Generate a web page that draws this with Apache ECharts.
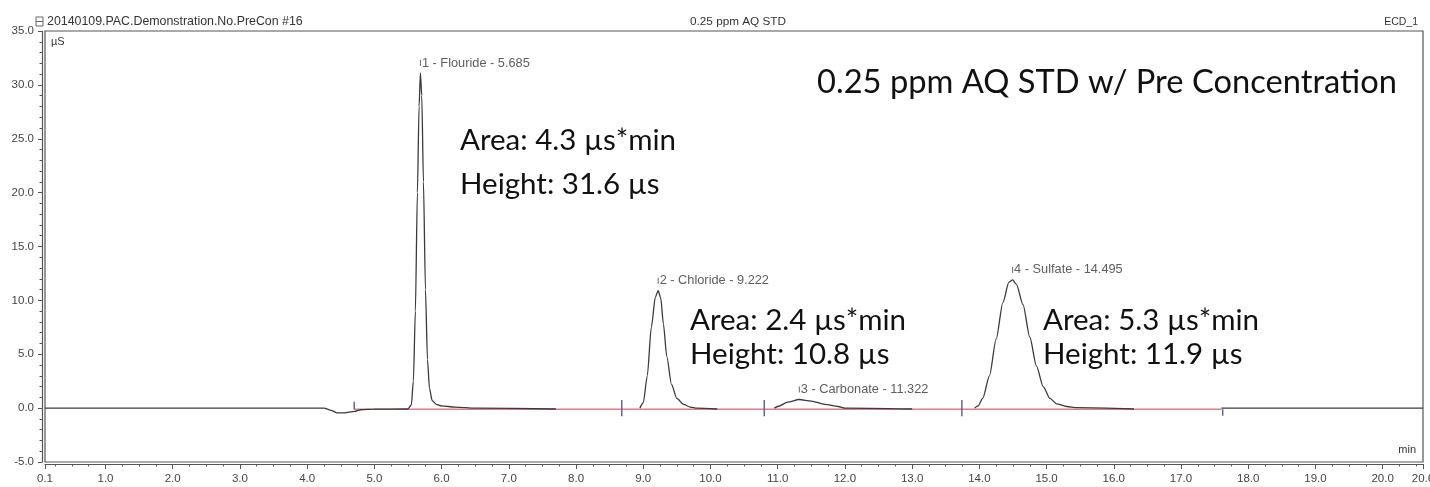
<!DOCTYPE html>
<html><head><meta charset="utf-8">
<script src="https://cdn.jsdelivr.net/npm/echarts@6/dist/echarts.min.js"></script>
<style>html,body{margin:0;padding:0;background:#fff}#c{width:1430px;height:487px}</style>
</head><body><div id="c"></div>
<script>
// ---- data ----
const traceTime = [0.1, 4.25, 4.35, 4.45, 4.55, 4.65, 4.7, 4.8, 5.0, 5.5, 5.55, 5.58, 5.61, 5.64, 5.665, 5.685, 5.705, 5.73, 5.76, 5.79, 5.82, 5.86, 5.92, 6.0, 6.2, 6.5, 7.7, 7.71,
  8.95, 9.0, 9.06, 9.12, 9.18, 9.222, 9.26, 9.3, 9.35, 9.42, 9.5, 9.6, 9.7, 9.8, 10.1, 10.11,
  10.95, 11.0, 11.15, 11.32, 11.5, 11.7, 11.9, 12.0, 13.0, 13.01,
  13.93, 13.98, 14.05, 14.15, 14.25, 14.35, 14.44, 14.495, 14.55, 14.65, 14.75, 14.85, 14.95, 15.05, 15.15, 15.3, 15.45, 16.3, 16.31,
  17.6, 20.6];
const traceValue = [0, 0, -0.2, -0.45, -0.45, -0.35, -0.3, -0.15, -0.1, -0.08, 0.3, 2.5, 9, 20, 28, 31.1, 29, 21, 11, 4.5, 1.8, 0.7, 0.35, 0.2, 0.1, 0.0, -0.08, null,
  0.0, 0.5, 3, 7.5, 10.3, 10.9, 10.2, 7.8, 4.8, 2.2, 0.9, 0.35, 0.1, 0.0, -0.08, null,
  0.0, 0.15, 0.55, 0.8, 0.65, 0.35, 0.15, 0.0, -0.08, null,
  0.0, 0.2, 0.9, 3.0, 6.4, 9.8, 11.7, 11.9, 11.5, 9.6, 6.6, 3.9, 2.0, 0.9, 0.4, 0.15, 0.05, -0.08, null,
  0, 0];
const baselineTime = [4.7, 17.6];
const baselineValue = [-0.1, -0.1];
const markerTime = [4.70, 8.68, 10.80, 13.74, 17.62];
const markerLow = [-0.1, -0.75, -0.75, -0.75, -0.7];
const markerHigh = [0.6, 0.75, 0.75, 0.75, -0.1];
const peakNum = [1, 2, 3, 4];
const peakName = ['Flouride', 'Chloride', 'Carbonate', 'Sulfate'];
const peakTime = [5.685, 9.222, 11.322, 14.495];
const peakHeight = [31.1, 10.9, 0.8, 11.9];
const annotArea = ['4.3', '2.4', '5.3'];
const annotHeight = ['31.6', '10.8', '11.9'];
const xTickLabels = [0.1, 1, 2, 3, 4, 5, 6, 7, 8, 9, 10, 11, 12, 13, 14, 15, 16, 17, 18, 19, 20, 20.6];
const yTicks = {min: -5, max: 35, step: 5};
const titleLeft = '20140109.PAC.Demonstration.No.PreCon #16';
const titleCenter = '0.25 ppm AQ STD';
const titleRight = 'ECD_1';
const bigNote = '0.25 ppm AQ STD w/ Pre Concentration';

// ---- layout / style ----
const smallFam = '"Liberation Sans", Arial, sans-serif';
const bigFam = 'Lato, "Open Sans", sans-serif';
const annotPos = [{x: 460, ya: 140, yh: 184}, {x: 690, ya: 320, yh: 354}, {x: 1043, ya: 320, yh: 354}];

function fitSize(text, family, target) {
  const c = document.createElement('canvas').getContext('2d');
  c.font = '100px ' + family;
  return 100 * target / c.measureText(text).width;
}

const minorX = [];
for (let t = 0.25; t < 20.6; t += 0.25) { if (Math.abs(t - Math.round(t)) > 1e-6) minorX.push(+t.toFixed(2)); }

const traceData = traceTime.map((t, i) => [t, traceValue[i] === null ? '-' : traceValue[i]]);
const baseData = baselineTime.map((t, i) => [t, baselineValue[i]]);
const markerData = [];
markerTime.forEach((t, i) => { markerData.push([t, markerLow[i]], [t, markerHigh[i]], [t, '-']); });
const peakData = peakTime.map((t, i) => [t, peakHeight[i]]);

const bigSize = fitSize(bigNote, bigFam, 580);
const areaSize = fitSize('Area: ' + annotArea[0] + ' µs*min', bigFam, 216);
const tSizeL = fitSize(titleLeft, smallFam, 256);
const tSizeC = fitSize(titleCenter, smallFam, 96);
const peakSize = fitSize('1 - Flouride - 5.685', smallFam, 108);

const graphics = [
  {type: 'rect', shape: {x: 36, y: 17, width: 7, height: 9}, style: {fill: '#fff', stroke: '#666', lineWidth: 1}},
  {type: 'line', shape: {x1: 36, y1: 21.5, x2: 43, y2: 21.5}, style: {stroke: '#666', lineWidth: 1}},
  {type: 'text', x: 47, y: 22, style: {text: titleLeft, fontSize: tSizeL, fontFamily: smallFam, fill: '#333', align: 'left', verticalAlign: 'middle'}},
  {type: 'text', x: 738, y: 22, style: {text: titleCenter, fontSize: tSizeC, fontFamily: smallFam, fill: '#333', align: 'center', verticalAlign: 'middle'}},
  {type: 'text', x: 1418, y: 22, style: {text: titleRight, fontSize: 10.5, fontFamily: smallFam, fill: '#333', align: 'right', verticalAlign: 'middle'}},
  {type: 'text', x: 51, y: 42, style: {text: 'µS', fontSize: 11, fontFamily: smallFam, fill: '#333', align: 'left', verticalAlign: 'middle'}},
  {type: 'text', x: 1416, y: 450, style: {text: 'min', fontSize: 11, fontFamily: smallFam, fill: '#333', align: 'right', verticalAlign: 'middle'}},
  {type: 'text', x: 817, y: 82, style: {text: bigNote, fontSize: bigSize, fontFamily: bigFam, fill: '#111', align: 'left', verticalAlign: 'middle'}}
];
annotArea.forEach((a, i) => {
  const p = annotPos[i];
  graphics.push({type: 'text', x: p.x, y: p.ya, style: {text: 'Area: ' + a + ' µs*min', fontSize: areaSize, fontFamily: bigFam, fill: '#111', align: 'left', verticalAlign: 'middle'}});
  graphics.push({type: 'text', x: p.x, y: p.yh, style: {text: 'Height: ' + annotHeight[i] + ' µs', fontSize: areaSize, fontFamily: bigFam, fill: '#111', align: 'left', verticalAlign: 'middle'}});
});

const axisLabelStyle = {fontSize: 11.5, fontFamily: smallFam, color: '#444'};

const chart = echarts.init(document.getElementById('c'), null, {renderer: 'canvas'});
chart.setOption({
  animation: false,
  backgroundColor: '#fff',
  grid: {left: 45, right: 7, top: 31, bottom: 25, containLabel: false, outerBoundsMode: 'none',
         show: true, borderColor: '#555', borderWidth: 1.2, backgroundColor: 'transparent'},
  xAxis: [{
    type: 'value', min: 0.1, max: 20.6, position: 'bottom', offset: 2,
    axisLine: {show: true, onZero: false, lineStyle: {color: '#555', width: 1.2}},
    axisTick: {show: true, length: 5, customValues: xTickLabels, lineStyle: {color: '#555'}},
    axisLabel: Object.assign({customValues: xTickLabels, margin: 9, formatter: v => (+v).toFixed(1)}, axisLabelStyle),
    splitLine: {show: false}
  }, {
    type: 'value', min: 0.1, max: 20.6, position: 'bottom', offset: 2,
    axisLine: {show: false, onZero: false},
    axisTick: {show: true, length: 2.5, customValues: minorX, lineStyle: {color: '#555'}},
    axisLabel: {show: false},
    splitLine: {show: false}
  }],
  yAxis: {
    type: 'value', min: yTicks.min, max: yTicks.max, interval: yTicks.step, offset: 3,
    axisLine: {show: true, onZero: false, lineStyle: {color: '#555', width: 1.2}},
    axisTick: {show: true, length: 4, lineStyle: {color: '#555'}},
    minorTick: {show: true, splitNumber: 5, length: 2.5, lineStyle: {color: '#555'}},
    axisLabel: Object.assign({margin: 8, formatter: v => v.toFixed(1)}, axisLabelStyle),
    splitLine: {show: false}
  },
  graphic: graphics,
  series: [
    {type: 'line', name: 'baseline', data: baseData, showSymbol: false, lineStyle: {color: '#d9808c', width: 1.6}, z: 2, silent: true},
    {type: 'line', name: 'trace', data: traceData, showSymbol: false, connectNulls: false, smooth: 0.25, smoothMonotone: 'x',
     lineStyle: {color: '#3a3a3a', width: 1.3}, z: 3, silent: true},
    {type: 'line', name: 'markers', data: markerData, showSymbol: false, connectNulls: false, lineStyle: {color: '#6262a8', width: 1.5}, z: 4, silent: true},
    {type: 'scatter', name: 'peaks', data: peakData, symbol: 'rect', symbolSize: [1, 6], symbolOffset: [0, -10],
     itemStyle: {color: '#444'}, z: 5, silent: true,
     label: {show: true, position: 'right', distance: 1, fontSize: peakSize, fontFamily: smallFam, color: '#333',
       formatter: p => peakNum[p.dataIndex] + ' - ' + peakName[p.dataIndex] + ' - ' + peakTime[p.dataIndex].toFixed(3)}}
  ]
});
</script></body></html>
